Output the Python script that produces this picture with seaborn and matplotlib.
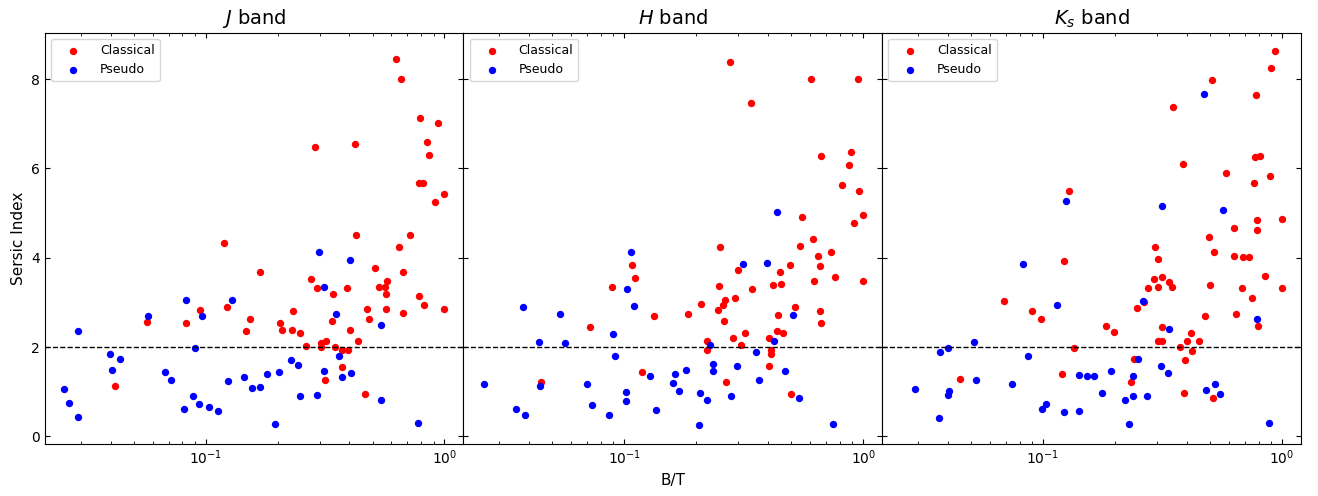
import pandas as pd
import matplotlib
matplotlib.use("Agg")
import matplotlib.pyplot as plt
import seaborn as sns

# values (B/T, Sersic index)

j_classical_bt = [0.0419, 0.0569, 0.0829, 0.095, 0.1194, 0.1233, 0.148, 0.153, 0.1685, 0.204,
                  0.209, 0.230, 0.232, 0.249, 0.263, 0.276, 0.287, 0.292, 0.304, 0.304,
                  0.319, 0.316, 0.343, 0.339, 0.348, 0.374, 0.374, 0.391, 0.394, 0.402,
                  0.421, 0.426, 0.435, 0.463, 0.472, 0.483, 0.512, 0.532, 0.562, 0.573,
                  0.567, 0.567, 0.625, 0.660, 0.648, 0.668, 0.668, 0.720, 0.793, 0.785,
                  0.814, 0.785, 0.819, 0.846, 0.865, 0.944, 0.914, 1.0, 1.0]
j_classical_n = [1.12, 2.56, 2.53, 2.82, 4.32, 2.90, 2.37, 2.62, 3.67, 2.55,
                 2.39, 2.39, 2.80, 2.32, 2.02, 3.52, 6.47, 3.33, 2.09, 2.00,
                 2.14, 1.27, 3.19, 2.59, 2.00, 1.94, 1.55, 3.33, 1.94, 2.39,
                 6.55, 4.50, 2.14, 0.95, 2.85, 2.62, 3.77, 3.35, 3.35, 3.48,
                 3.19, 2.85, 8.45, 8.00, 4.25, 3.67, 2.77, 4.50, 7.14, 5.67,
                 5.67, 3.15, 2.94, 6.60, 6.30, 7.02, 5.25, 5.42, 2.85]
j_pseudo_bt = [0.0255, 0.0268, 0.0292, 0.0292, 0.0399, 0.0404, 0.0440, 0.0574, 0.0677, 0.0713,
               0.0827, 0.0814, 0.0888, 0.0902, 0.0935, 0.0966, 0.1036, 0.113, 0.1245, 0.1288,
               0.145, 0.157, 0.169, 0.180, 0.202, 0.196, 0.228, 0.243, 0.249, 0.292,
               0.299, 0.312, 0.312, 0.350, 0.361, 0.373, 0.402, 0.408, 0.541, 0.541, 0.778]
j_pseudo_n = [1.07, 0.74, 0.44, 2.37, 1.85, 1.49, 1.74, 2.69, 1.44, 1.27,
              3.05, 0.62, 0.90, 1.97, 0.72, 2.69, 0.65, 0.57, 1.25, 3.05,
              1.32, 1.09, 1.11, 1.40, 1.44, 0.27, 1.70, 1.59, 0.90, 0.92,
              4.12, 3.35, 1.47, 2.74, 1.79, 1.32, 3.95, 1.42, 2.50, 0.82, 0.29]

h_classical_bt = [0.0447, 0.0716, 0.0885, 0.1077, 0.1112, 0.1186, 0.1336, 0.184, 0.209, 0.223,
                  0.223, 0.246, 0.248, 0.251, 0.259, 0.265, 0.262, 0.266, 0.277, 0.285,
                  0.290, 0.298, 0.308, 0.321, 0.339, 0.342, 0.402, 0.404, 0.411, 0.411,
                  0.419, 0.434, 0.438, 0.454, 0.448, 0.463, 0.493, 0.500, 0.516, 0.543,
                  0.556, 0.606, 0.618, 0.620, 0.650, 0.659, 0.659, 0.665, 0.667, 0.733,
                  0.766, 0.817, 0.871, 0.891, 0.950, 0.959, 0.914, 1.0, 1.0]
h_classical_n = [1.22, 2.44, 3.35, 3.84, 3.55, 1.44, 2.70, 2.74, 2.97, 2.14,
                 1.94, 2.82, 3.37, 4.25, 2.94, 3.05, 2.59, 1.22, 8.39, 2.20,
                 3.09, 3.72, 2.05, 2.32, 7.47, 3.30, 1.57, 2.20, 1.94, 1.85,
                 3.39, 2.35, 2.72, 3.42, 3.67, 2.32, 3.84, 0.95, 2.89, 4.27,
                 4.92, 8.00, 4.42, 3.48, 4.04, 3.82, 2.80, 2.54, 6.27, 4.12,
                 3.57, 5.62, 6.07, 6.37, 8.00, 5.49, 4.77, 4.95, 3.48]
h_pseudo_bt = [0.0259, 0.0352, 0.0383, 0.0376, 0.0439, 0.0443, 0.0536, 0.0565, 0.070, 0.073,
               0.0865, 0.0897, 0.0914, 0.1019, 0.1019, 0.103, 0.1067, 0.1097, 0.128, 0.136,
               0.160, 0.163, 0.169, 0.181, 0.205, 0.2066, 0.223, 0.2275, 0.235, 0.235,
               0.2786, 0.295, 0.315, 0.355, 0.365, 0.395, 0.425, 0.434, 0.473, 0.509,
               0.538, 0.749]
h_pseudo_n = [1.17, 0.62, 0.49, 2.89, 2.12, 1.12, 2.74, 2.09, 1.17, 0.70,
              0.49, 2.29, 1.79, 0.99, 0.79, 3.30, 4.12, 2.92, 1.35, 0.60,
              1.20, 1.40, 1.02, 1.49, 0.25, 0.97, 0.82, 2.05, 1.62, 1.47,
              0.90, 1.57, 3.85, 1.90, 1.27, 3.89, 2.14, 5.02, 1.47, 2.72,
              0.87, 0.27]

ks_classical_bt = [0.0449, 0.069, 0.090, 0.098, 0.120, 0.1227, 0.129, 0.135, 0.1844, 0.1986,
                   0.233, 0.240, 0.248, 0.265, 0.276, 0.2915, 0.294, 0.304, 0.304, 0.304,
                   0.315, 0.315, 0.315, 0.338, 0.347, 0.350, 0.373, 0.385, 0.389, 0.394,
                   0.402, 0.415, 0.420, 0.448, 0.476, 0.494, 0.499, 0.509, 0.514, 0.519,
                   0.586, 0.629, 0.629, 0.645, 0.679, 0.685, 0.726, 0.747, 0.762, 0.769,
                   0.807, 0.781, 0.784, 0.784, 0.796, 0.851, 0.889, 0.897, 0.938, 1.0, 1.0]
ks_classical_n = [1.29, 3.04, 2.80, 2.62, 1.40, 3.92, 5.49, 1.97, 2.47, 2.34,
                  1.22, 1.74, 2.87, 3.02, 3.32, 3.52, 4.25, 3.97, 3.35, 2.14,
                  2.14, 3.57, 2.44, 3.45, 3.35, 7.37, 2.00, 6.09, 0.97, 1.72,
                  2.14, 2.32, 1.92, 2.14, 2.70, 4.47, 3.39, 7.97, 0.87, 4.12,
                  5.90, 4.66, 4.04, 2.74, 3.32, 4.02, 4.02, 3.09, 5.67, 6.25,
                  6.27, 7.65, 4.84, 4.62, 2.47, 3.59, 5.84, 8.24, 8.62, 4.87, 3.32]
ks_pseudo_bt = [0.0290, 0.0367, 0.0371, 0.040, 0.040, 0.0404, 0.0515, 0.0523, 0.0745, 0.0826,
                0.0869, 0.099, 0.1033, 0.1148, 0.1224, 0.1248, 0.142, 0.142, 0.1535, 0.1637,
                0.1763, 0.192, 0.221, 0.230, 0.238, 0.238, 0.2507, 0.262, 0.2735, 0.3105,
                0.315, 0.334, 0.338, 0.474, 0.482, 0.524, 0.550, 0.565, 0.789, 0.885]
ks_pseudo_n = [1.07, 0.42, 1.90, 1.97, 0.92, 1.02, 2.12, 1.27, 1.17, 3.87,
               1.79, 0.62, 0.72, 2.94, 0.55, 5.27, 1.37, 0.57, 1.35, 1.35,
               0.97, 1.47, 0.82, 0.27, 1.35, 0.90, 1.74, 3.04, 0.90, 1.57,
               5.17, 1.42, 2.40, 7.67, 1.05, 1.17, 0.95, 5.07, 2.62, 0.29]

titles = [r"$J$ band", r"$H$ band", r"$K_s$ band"]
bands = [
    (j_classical_bt, j_classical_n, j_pseudo_bt, j_pseudo_n),
    (h_classical_bt, h_classical_n, h_pseudo_bt, h_pseudo_n),
    (ks_classical_bt, ks_classical_n, ks_pseudo_bt, ks_pseudo_n),
]

fig, axes = plt.subplots(1, 3, figsize=(13.18, 4.96), dpi=100, sharex=True, sharey=True)
fig.subplots_adjust(left=0.034, right=0.987, top=0.934, bottom=0.105, wspace=0)

for ax, title, (cbt, cn, pbt, pn) in zip(axes, titles, bands):
    classical = pd.DataFrame({"BT": cbt, "n": cn})
    pseudo = pd.DataFrame({"BT": pbt, "n": pn})
    sns.scatterplot(data=classical, x="BT", y="n", color="red", s=28, linewidth=0,
                    label="Classical", ax=ax)
    sns.scatterplot(data=pseudo, x="BT", y="n", color="blue", s=28, linewidth=0,
                    label="Pseudo", ax=ax)
    ax.axhline(2, color="black", linestyle="--", linewidth=1)
    ax.set_xscale("log")
    ax.set_title(title, fontsize=14)
    ax.set_xlabel("")
    ax.set_ylabel("")
    ax.tick_params(which="both", direction="in", top=True, right=True, labelsize=10)
    ax.legend(loc="upper left", fontsize=9, handlelength=2.7)

axes[0].set_ylabel("Sersic Index", fontsize=11)
axes[1].set_xlabel("B/T", fontsize=11)
axes[0].set_yticks([0, 2, 4, 6, 8])

fig.savefig("out.png", dpi=100)
